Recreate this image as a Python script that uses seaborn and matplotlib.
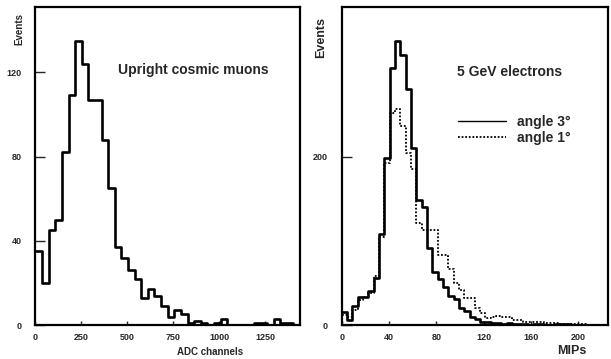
import numpy as np
import pandas as pd
import matplotlib
matplotlib.use("Agg")
import matplotlib.pyplot as plt
from matplotlib.lines import Line2D
import seaborn as sns

# ---------------- data ----------------
# Left: upright cosmic muons, ADC channels, 40 bins of 36 channels (0..1440)
adc_edges = [float(v) for v in np.arange(0, 1440 + 1, 36)]
muon_counts = [35, 20, 45, 50, 82, 109, 135, 124, 107, 107,
               88, 65, 37, 32, 26, 22, 13, 17, 14, 9,
               4, 7, 5, 1, 2, 1, 0, 1, 3, 0,
               0, 0, 0, 1, 1, 0, 3, 1, 1, 0]

# Right: 5 GeV electrons, MIPs, 50 bins of 4.5 MIPs (0..225)
mip_edges = [float(v) for v in np.arange(0, 225 + 0.01, 4.5)]
angle3_counts = [15, 6, 22, 33, 33, 40, 56, 108, 199, 305,
                 338, 321, 281, 210, 149, 140, 92, 63, 55, 45,
                 35, 31, 20, 17, 10, 7, 4, 3, 2, 2,
                 1, 2, 1, 1, 1, 0, 1, 1, 0, 0,
                 1, 1, 1, 0, 0, 0, 0, 0, 0, 0]
angle1_counts = [12, 10, 18, 30, 33, 38, 58, 105, 192, 252,
                 257, 236, 205, 186, 121, 113, 113, 113, 83, 83,
                 67, 50, 42, 32, 32, 20, 14, 8, 10, 11,
                 10, 10, 6, 6, 4, 4, 4, 4, 2, 2,
                 2, 1, 1, 1, 1, 1, 0, 0, 0, 0]

left_xticks = [0, 250, 500, 750, 1000, 1250]
left_yticks = [0, 40, 80, 120]
right_xticks = [0, 40, 80, 120, 160, 200]
right_yticks = [0, 200]

# ---------------- style ----------------
sns.set_style("ticks")
plt.rcParams["font.family"] = ["Liberation Sans", "DejaVu Sans"]

fig = plt.figure(figsize=(6.11, 3.59), dpi=100)
axL = fig.add_axes([0.058, 0.0947, 0.433, 0.8858])
axR = fig.add_axes([0.5593, 0.0947, 0.4357, 0.8858])

def centers(edges):
    e = np.asarray(edges, dtype=float)
    return (e[:-1] + e[1:]) / 2

dfL = pd.DataFrame({"x": centers(adc_edges), "w": muon_counts})
sns.histplot(data=dfL, x="x", weights="w", bins=adc_edges, element="step",
             fill=False, color="black", linewidth=1.9, ax=axL)

dfR3 = pd.DataFrame({"x": centers(mip_edges), "w": angle3_counts})
dfR1 = pd.DataFrame({"x": centers(mip_edges), "w": angle1_counts})
sns.histplot(data=dfR1, x="x", weights="w", bins=mip_edges, element="step",
             fill=False, color="black", linewidth=1.3, linestyle=(0, (1, 1)), ax=axR)
sns.histplot(data=dfR3, x="x", weights="w", bins=mip_edges, element="step",
             fill=False, color="black", linewidth=1.9, ax=axR)

for ax, xl, yl, xt, yt in [(axL, (0, 1440), (0, 151), left_xticks, left_yticks),
                           (axR, (0, 225), (0, 378), right_xticks, right_yticks)]:
    ax.set_xlim(*xl)
    ax.set_ylim(*yl)
    ax.set_xticks(xt)
    ax.set_yticks(yt)
    ax.set_xticklabels([str(v) for v in xt], fontsize=6.5, fontweight="bold")
    ax.set_yticklabels([str(v) for v in yt], fontsize=6.5, fontweight="bold")
    ax.tick_params(axis="x", direction="in", length=3, width=1, pad=6)
    ax.tick_params(axis="y", direction="in", length=7, width=1, pad=10)
    for s in ax.spines.values():
        s.set_visible(True)
        s.set_linewidth(1.6)
        s.set_color("black")
    ax.set_ylabel("")
    ax.set_xlabel("")

# y labels ("Events") at top-left
axL.text(-0.062, 0.93, "Events", transform=axL.transAxes, rotation=90,
         ha="center", va="center", fontsize=7, fontweight="bold")
axR.text(-0.078, 0.904, "Events", transform=axR.transAxes, rotation=90,
         ha="center", va="center", fontsize=9, fontweight="bold")

# x labels
axL.text(0.66, -0.068, "ADC channels", transform=axL.transAxes,
         ha="center", va="top", fontsize=7, fontweight="bold")
axR.text(0.865, -0.064, "MIPs", transform=axR.transAxes,
         ha="center", va="top", fontsize=9, fontweight="bold")

# annotations
axL.text(0.312, 0.802, "Upright cosmic muons", transform=axL.transAxes,
         ha="left", va="center", fontsize=10, fontweight="bold")
axR.text(0.433, 0.796, "5 GeV electrons", transform=axR.transAxes,
         ha="left", va="center", fontsize=10, fontweight="bold")

handles = [Line2D([], [], color="black", linewidth=1.0),
           Line2D([], [], color="black", linewidth=1.3, linestyle=(0, (1, 1)))]
axR.legend(handles, ["angle 3°", "angle 1°"], loc="upper left",
           bbox_to_anchor=(0.435, 0.66), frameon=False,
           prop={"size": 10, "weight": "bold"},
           borderpad=0, borderaxespad=0, handlelength=3.5,
           handletextpad=0.8, labelspacing=0.1)

fig.savefig("out.png", dpi=100)
